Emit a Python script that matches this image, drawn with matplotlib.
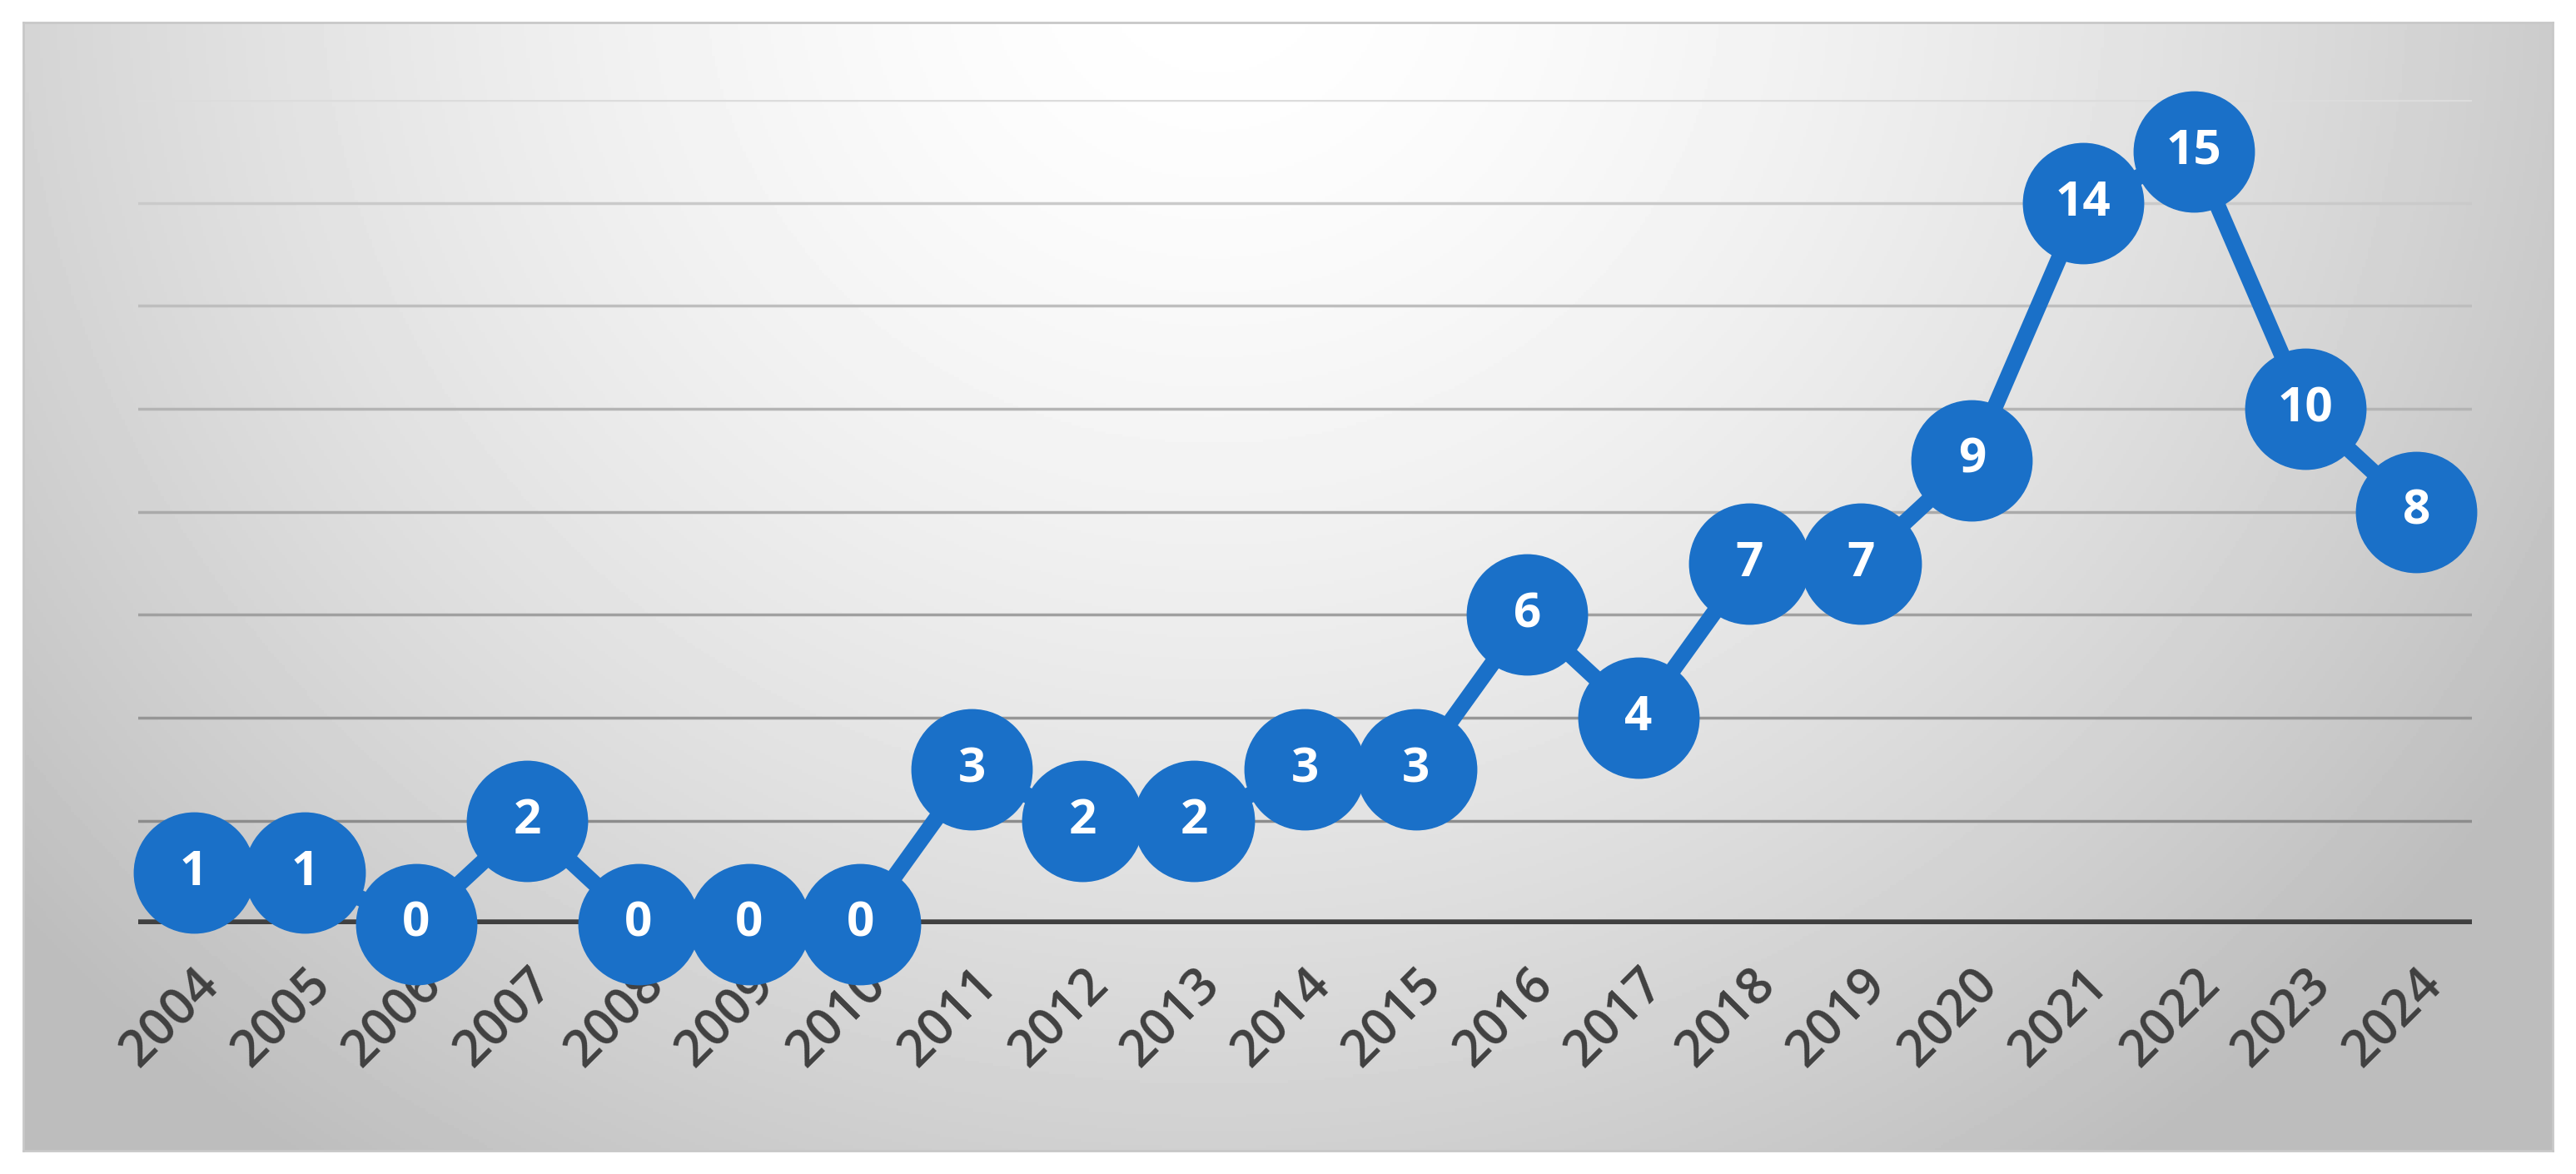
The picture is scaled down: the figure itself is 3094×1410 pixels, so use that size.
import numpy as np
import matplotlib.pyplot as plt

years = [str(y) for y in range(2004, 2025)]
counts = [1, 1, 0, 2, 0, 0, 0, 3, 2, 2, 3, 3, 6, 4, 7, 7, 9, 14, 15, 10, 8]
grid_levels = [2, 4, 6, 8, 10, 12, 14, 16]

fig = plt.figure(figsize=(30.94, 14.10), dpi=100)

# radial gradient background inside a light frame
bg = fig.add_axes([0.009, 0.02, 0.982, 0.961])
h, w = 400, 900
yy, xx = np.mgrid[0:h, 0:w]
cx, cy = w * 0.47, -h * 0.05
r = np.sqrt(((xx - cx) / (w * 0.62)) ** 2 + ((yy - cy) / (h * 1.3)) ** 2)
val = np.clip(1.0 - 0.26 * r ** 1.6, 0.74, 1.0)
bg.imshow(val, cmap="gray", vmin=0, vmax=1, aspect="auto", extent=[0, 1, 0, 1])
bg.set_xticks([])
bg.set_yticks([])
for s in bg.spines.values():
    s.set_color("#c8c8c8")
    s.set_linewidth(2)

ax = fig.add_axes([0.0536, 0.213, 0.906, 0.702])
ax.patch.set_alpha(0)
x = np.arange(len(years))
ax.set_xlim(-0.5, len(years) - 0.5)
ax.set_ylim(0, 16)

grid_cols = ["#8c8c8c", "#969696", "#a0a0a0", "#aaaaaa", "#b4b4b4", "#bebebe", "#cacaca", "#dcdcdc"]
for lvl, c in zip(grid_levels, grid_cols):
    ax.axhline(lvl, color=c, lw=2.5, zorder=1)
ax.axhline(0, color="#404040", lw=9, zorder=2)

ax.plot(x, counts, color="#1a70c8", lw=14, zorder=3, clip_on=False)
ax.plot(x, counts, "o", color="#1a70c8", markersize=104, zorder=4, clip_on=False)
for xi, v in zip(x, counts):
    ax.text(xi, v, str(v), ha="center", va="center", color="white",
            fontsize=42, fontweight="bold", family="Open Sans", zorder=5)

ax.set_xticks(x)
ax.set_xticklabels(years, rotation=45, ha="right", rotation_mode="anchor",
                   fontsize=44, color="#404040", family="Open Sans", fontweight="semibold")
ax.tick_params(axis="x", length=0, pad=30)
ax.set_yticks([])
for s in ax.spines.values():
    s.set_visible(False)

fig.savefig("out.png", dpi=100)
